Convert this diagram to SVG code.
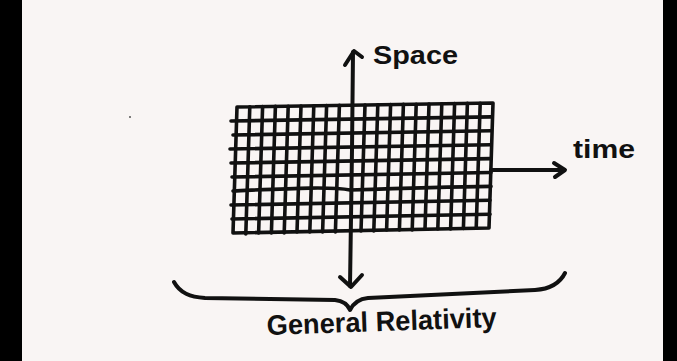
<svg xmlns="http://www.w3.org/2000/svg" width="677" height="361" viewBox="0 0 677 361">
  <style>
    .ink { fill: none; stroke: #111; stroke-linecap: round; stroke-linejoin: round; }
    .grid { stroke-width: 3.6; }
    .axis { stroke-width: 4; }
    .label { font-family: "Liberation Sans", "DejaVu Sans", sans-serif; font-weight: bold; fill: #111; }
  </style>
  <rect x="0" y="0" width="677" height="361" fill="#f9f5f4"/>
  <rect x="0" y="0" width="22" height="361" fill="#000"/>
  <rect x="663" y="0" width="14" height="361" fill="#000"/>
  <circle cx="130" cy="117" r="1" fill="#555"/>

  <g id="spacetime-grid" class="ink grid">
    <path d="M237,107 L493,103 L489,228 L233,233 Z"/>
    <path d="M231,121 L491,116.9 M233,135 L491,130.8 M230,149 L491,144.7 M231,163 L491,158.6 M232,177 L491,172.5 M233,191 C280,189 330,186 350,190 C380,189 440,187 491,186.4 M231,205 L490,200.3 M232,219 L490,214.2"/>
    <path d="M249.8,106.8 L245.8,234 M262.6,106.6 L258.6,233 M275.4,106.4 L271.4,233 M288.2,106.2 L284.2,233 M301,106 L297,232 M313.8,105.8 L309.8,232 M326.6,105.6 L322.6,232 M339.4,105.4 L335.4,232 M365,105 L361,231 M377.8,104.8 L373.8,231 M390.6,104.6 L386.6,230 M403.4,104.4 L399.4,230 M416.2,104.2 L412.2,230 M429,104 L425,229.3 M441.8,103.8 L437.8,229 M454.6,103.6 L450.6,229 M467.4,103.4 L463.4,228.5 M480.2,103.2 L476.2,228.3"/>
  </g>

  <g id="connectors" class="ink axis">
    <g id="space-axis">
      <path d="M353,52 L352,150 L350,286"/>
      <path d="M345,65 L354,51 L362,57"/>
    </g>
    <g id="down-arrow">
      <path d="M340,277 L351,287 L362,275"/>
    </g>
    <g id="time-axis">
      <path d="M491,170 L564,170"/>
      <path d="M554,163 L565,170 L555,177"/>
    </g>
    <g id="brace">
      <path d="M174,282 C180,293 190,297 205,298 L335,300 C343,301 348,305 350,310 C353,304 358,299 368,298 L535,290 C550,289 560,283 565,273"/>
    </g>
  </g>

  <g id="label-space">
    <text class="label" x="373" y="64" font-size="26" textLength="85" lengthAdjust="spacingAndGlyphs">Space</text>
  </g>
  <g id="label-time">
    <text class="label" x="573" y="158" font-size="26" textLength="62" lengthAdjust="spacingAndGlyphs">time</text>
  </g>
  <g id="label-gr">
    <text class="label" x="267" y="335" font-size="28" textLength="230" lengthAdjust="spacingAndGlyphs" transform="rotate(-2 267 335)">General Relativity</text>
  </g>
</svg>
